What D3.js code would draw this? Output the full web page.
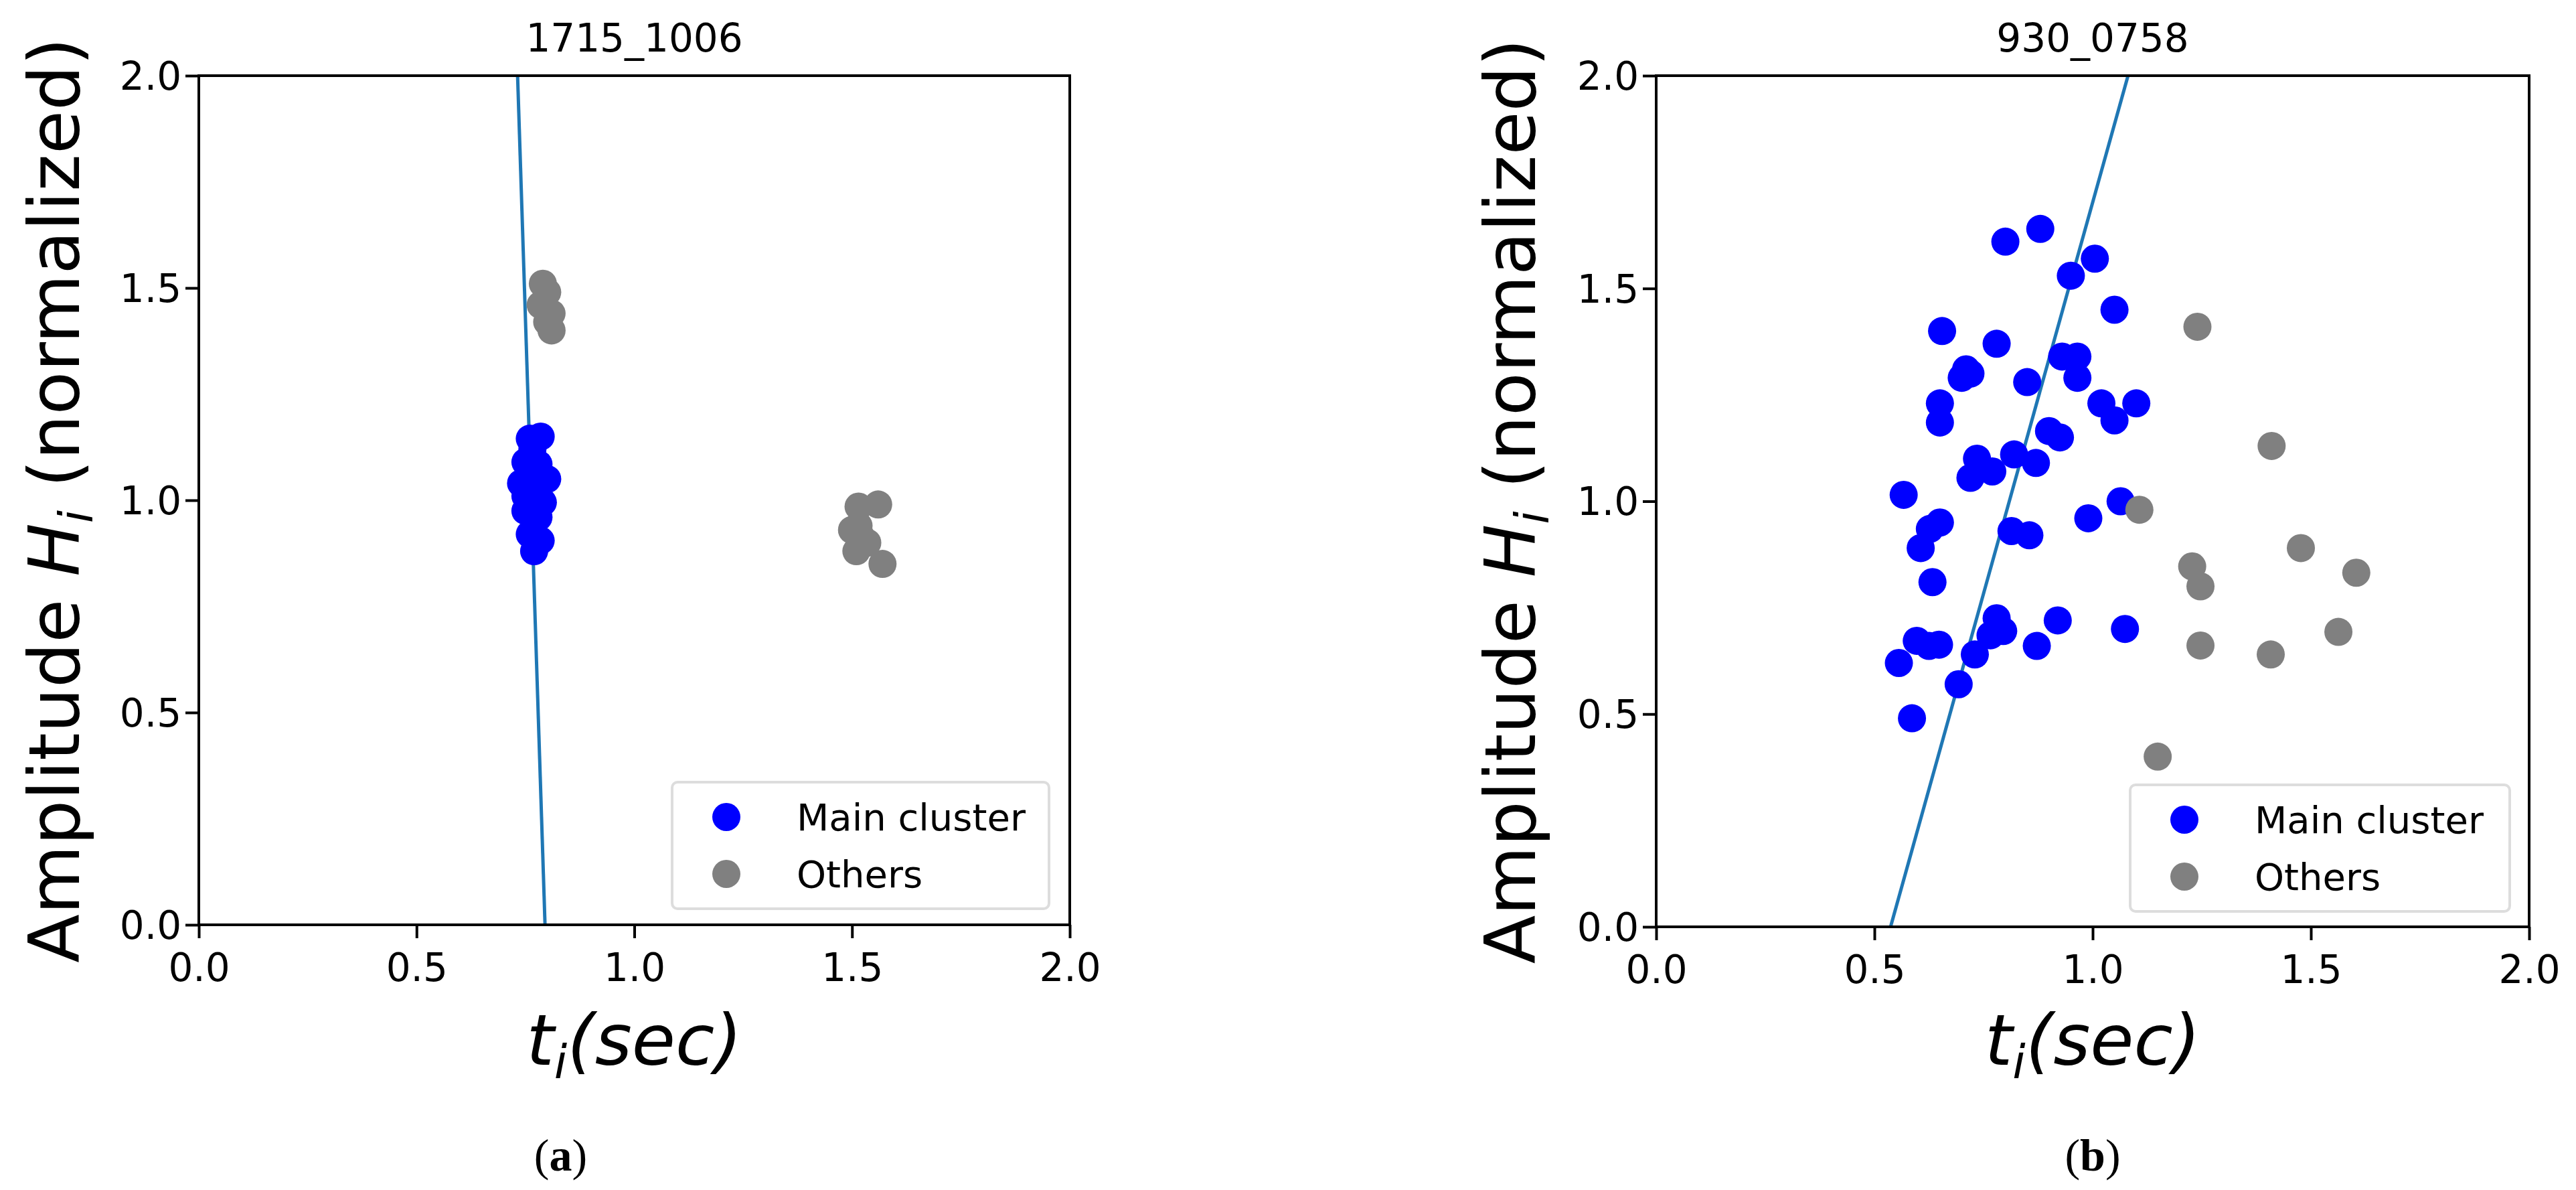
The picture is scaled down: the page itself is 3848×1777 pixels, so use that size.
<!DOCTYPE html><html><head><meta charset="utf-8"><script src="https://cdn.jsdelivr.net/npm/d3@7"></script>
<style>body{margin:0;background:#fff}svg{display:block}</style></head><body><svg id="c" width="3848" height="1777"></svg>
<script>
const titles=["1715_1006","930_0758"];
const panelLabels=["a","b"];
const ticks=[0,0.5,1,1.5,2];
const mainA=[[0.785,1.15],[0.76,1.145],[0.75,1.09],[0.78,1.085],[0.80,1.05],[0.74,1.04],[0.77,1.03],[0.79,0.995],[0.75,0.975],[0.78,0.96],[0.76,0.92],[0.785,0.905],[0.77,0.88],[0.75,1.01],[0.766,1.12]];
const othersA=[[0.79,1.51],[0.80,1.49],[0.81,1.44],[0.785,1.46],[0.81,1.40],[0.80,1.42],[1.515,0.985],[1.56,0.99],[1.50,0.93],[1.52,0.915],[1.535,0.90],[1.51,0.88],[1.57,0.85],[1.515,0.94]];
const lineA=[[0.732,2.0],[0.795,0.0]];
const mainB=[[0.80,1.61],[0.88,1.64],[1.005,1.57],[0.95,1.53],[1.05,1.45],[0.655,1.40],[0.78,1.37],[0.93,1.34],[0.965,1.34],[0.71,1.31],[0.70,1.29],[0.72,1.30],[0.85,1.28],[0.965,1.29],[0.65,1.23],[1.02,1.23],[1.10,1.23],[0.65,1.185],[1.05,1.19],[0.90,1.165],[0.925,1.15],[0.735,1.10],[0.82,1.11],[0.87,1.09],[0.77,1.07],[0.72,1.055],[0.567,1.015],[1.064,1.00],[0.99,0.96],[0.65,0.95],[0.627,0.935],[0.814,0.93],[0.855,0.92],[0.606,0.89],[0.633,0.81],[0.78,0.725],[0.92,0.72],[1.074,0.70],[0.795,0.695],[0.766,0.685],[0.597,0.672],[0.648,0.663],[0.625,0.66],[0.872,0.66],[0.73,0.64],[0.556,0.62],[0.693,0.57],[0.586,0.49]];
const othersB=[[1.24,1.41],[1.41,1.13],[1.107,0.98],[1.477,0.89],[1.228,0.847],[1.247,0.80],[1.604,0.832],[1.563,0.693],[1.247,0.661],[1.408,0.64],[1.149,0.40]];
const lineB=[[0.537,0.0],[1.081,2.0]];
const panels=[{x0:297,x1:1598,y0:113,y1:1381,main:mainA,others:othersA,line:lineA,lg:[1004,1168,563,189],ylx:80},
{x0:2474,x1:3778,y0:113,y1:1384,main:mainB,others:othersB,line:lineB,lg:[3182,1172,567,189],ylx:2255}];
const svg=d3.select("#c");
const F="DejaVu Sans";
panels.forEach((p,i)=>{
 const x=d3.scaleLinear().domain([0,2]).range([p.x0,p.x1]);
 const y=d3.scaleLinear().domain([0,2]).range([p.y1,p.y0]);
 const g=svg.append("g");
 const clip="cl"+i;
 svg.append("clipPath").attr("id",clip).append("rect").attr("x",p.x0).attr("y",p.y0).attr("width",p.x1-p.x0).attr("height",p.y1-p.y0);
 g.append("path").attr("clip-path",`url(#${clip})`).attr("d",d3.line().x(d=>x(d[0])).y(d=>y(d[1]))(p.line)).attr("stroke","#1f77b4").attr("stroke-width",5).attr("fill","none");
 g.selectAll(".m").data(p.main).join("circle").attr("cx",d=>x(d[0])).attr("cy",d=>y(d[1])).attr("r",21).attr("fill","#0000ff");
 g.selectAll(".o").data(p.others).join("circle").attr("cx",d=>x(d[0])).attr("cy",d=>y(d[1])).attr("r",21).attr("fill","#808080");
 g.append("rect").attr("x",p.x0).attr("y",p.y0).attr("width",p.x1-p.x0).attr("height",p.y1-p.y0).attr("fill","none").attr("stroke","#000").attr("stroke-width",4);
 const ax=g.append("g").attr("transform",`translate(0,${p.y1})`).call(d3.axisBottom(x).tickValues(ticks).tickFormat(d3.format(".1f")).tickSize(20).tickSizeOuter(0));
 const ay=g.append("g").attr("transform",`translate(${p.x0},0)`).call(d3.axisLeft(y).tickValues(ticks).tickFormat(d3.format(".1f")).tickSize(20).tickSizeOuter(0));
 [ax,ay].forEach(a=>{a.select(".domain").remove();a.selectAll("line").attr("stroke-width",4);a.selectAll("text").attr("font-family",F).attr("font-size",58).attr("fill","#000");});
 ax.selectAll("text").attr("dy","1.05em");
 ay.selectAll("text").attr("dx","-0.05em").attr("dy","0.35em");
 g.append("text").attr("x",(p.x0+p.x1)/2).attr("y",77).attr("text-anchor","middle").attr("font-family",F).attr("font-size",58).text(titles[i]);
 const yl=g.append("text").attr("transform",`translate(${p.ylx+38},${(p.y0+p.y1)/2}) rotate(-90)`).attr("text-anchor","middle").attr("font-family",F).attr("font-size",106);
 yl.append("tspan").text("Amplitude ");yl.append("tspan").attr("font-style","italic").text("H");
 yl.append("tspan").attr("font-style","italic").attr("font-size",70).attr("dy",20).text("i");
 yl.append("tspan").attr("dy",-20).text(" (normalized)");
 const xl=g.append("text").attr("x",(p.x0+p.x1)/2).attr("y",1590).attr("text-anchor","middle").attr("font-family",F).attr("font-size",106).attr("font-style","italic");
 xl.append("tspan").text("t");xl.append("tspan").attr("font-size",70).attr("dy",20).text("i");xl.append("tspan").attr("dy",-20).text("(sec)");
 const [lx,ly,lw,lh]=p.lg;
 g.append("rect").attr("x",lx).attr("y",ly).attr("width",lw).attr("height",lh).attr("rx",8).attr("fill","#fff").attr("fill-opacity",0.8).attr("stroke","#ddd").attr("stroke-width",4);
 [["Main cluster","#0000ff"],["Others","#808080"]].forEach((e,k)=>{
  const cy=ly+52+k*85;
  g.append("circle").attr("cx",lx+81).attr("cy",cy).attr("r",21).attr("fill",e[1]);
  g.append("text").attr("x",lx+186).attr("y",cy+20).attr("font-family",F).attr("font-size",56).text(e[0]);
 });
 const pl=g.append("text").attr("x",(p.x0+p.x1)/2-(i==0?110:0)).attr("y",1748).attr("text-anchor","middle").attr("font-family","Liberation Serif").attr("font-size",68);
 pl.append("tspan").text("(");pl.append("tspan").attr("font-weight","bold").text(panelLabels[i]);pl.append("tspan").text(")");
});
</script></body></html>
